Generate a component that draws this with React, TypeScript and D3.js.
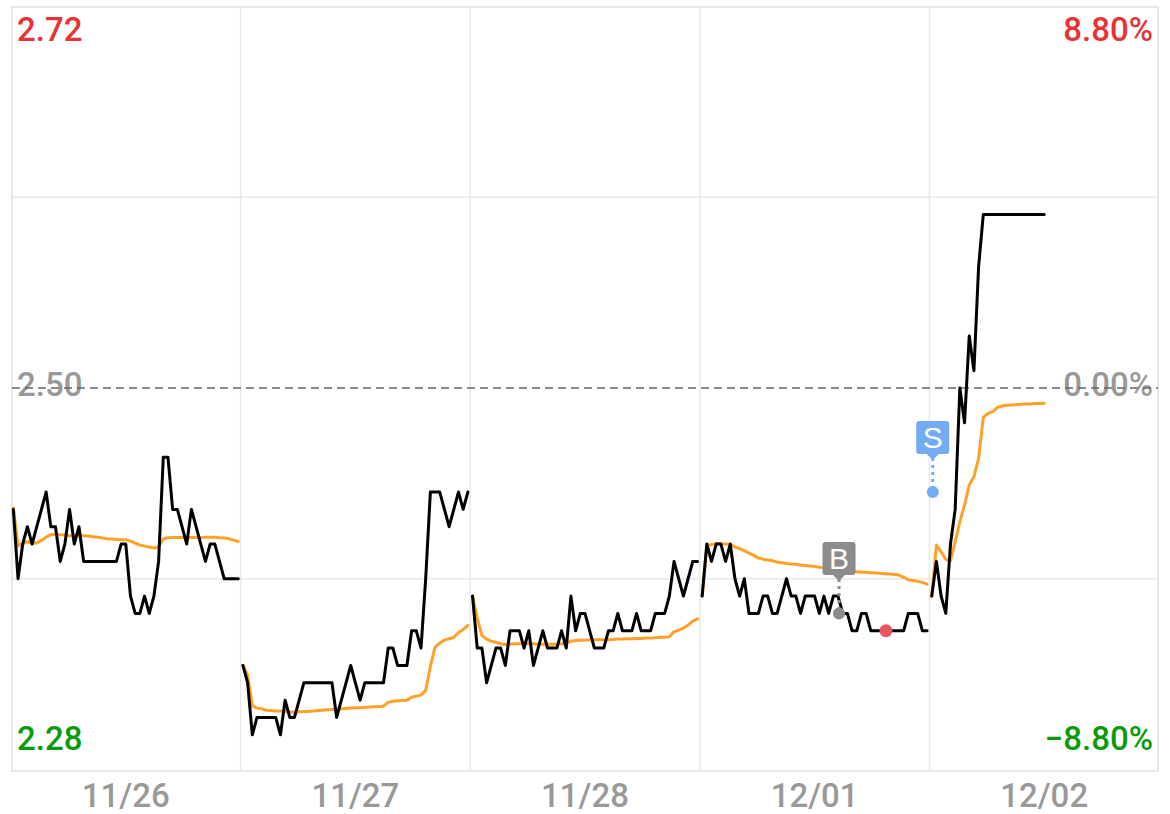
import React from "react";
import * as d3 from "d3";

const dayLabels = ["11/26", "11/27", "11/28", "12/01", "12/02"];
const leftLabels = ["2.72", "2.50", "2.28"];
const rightLabels = ["8.80%", "0.00%", "−8.80%"];
const PRICE_TOP = 2.72;
const PRICE_MID = 2.5;
const PRICE_BOTTOM = 2.28;
const PRICE_GRID_UP = 2.61;
const PRICE_GRID_DOWN = 2.39;
const POINTS_PER_DAY = 49;

const priceDay1 = [2.43,2.39,2.41,2.42,2.41,2.42,2.43,2.44,2.42,2.42,2.40,2.41,2.43,2.41,2.42,2.40,2.40,2.40,2.40,2.40,2.40,2.40,2.40,2.41,2.41,2.38,2.37,2.37,2.38,2.37,2.38,2.40,2.46,2.46,2.43,2.43,2.42,2.41,2.43,2.42,2.41,2.40,2.41,2.41,2.40,2.39,2.39,2.39,2.39];
const priceDay2 = [2.34,2.33,2.30,2.31,2.31,2.31,2.31,2.31,2.30,2.32,2.31,2.31,2.32,2.33,2.33,2.33,2.33,2.33,2.33,2.33,2.31,2.32,2.33,2.34,2.33,2.32,2.33,2.33,2.33,2.33,2.33,2.35,2.35,2.34,2.34,2.34,2.36,2.36,2.35,2.39,2.44,2.44,2.44,2.43,2.42,2.43,2.44,2.43,2.44];
const priceDay3 = [2.38,2.35,2.35,2.33,2.34,2.35,2.35,2.34,2.36,2.36,2.36,2.35,2.36,2.34,2.35,2.36,2.35,2.35,2.35,2.36,2.35,2.38,2.36,2.37,2.37,2.36,2.35,2.35,2.35,2.36,2.36,2.37,2.36,2.36,2.36,2.37,2.36,2.36,2.36,2.37,2.37,2.37,2.38,2.40,2.39,2.38,2.39,2.40,2.40];
const priceDay4 = [2.38,2.41,2.40,2.41,2.41,2.40,2.41,2.39,2.38,2.39,2.37,2.37,2.37,2.38,2.38,2.37,2.37,2.38,2.39,2.38,2.38,2.37,2.38,2.38,2.38,2.37,2.38,2.37,2.38,2.38,2.37,2.37,2.36,2.36,2.37,2.37,2.36,2.36,2.36,2.36,2.36,2.36,2.36,2.36,2.37,2.37,2.37,2.36,2.36];
const priceDay5 = [2.38,2.40,2.38,2.37,2.41,2.43,2.50,2.48,2.53,2.51,2.57,2.60,2.60,2.60,2.60,2.60,2.60,2.60,2.60,2.60,2.60,2.60,2.60,2.60,2.60];

const avgDay1 = [2.4308,2.4090,2.4102,2.4113,2.4106,2.4106,2.4121,2.4140,2.4154,2.4156,2.4154,2.4152,2.4148,2.4148,2.4148,2.4148,2.4146,2.4142,2.4140,2.4135,2.4131,2.4129,2.4127,2.4125,2.4125,2.4117,2.4106,2.4094,2.4088,2.4083,2.4077,2.4083,2.4129,2.4137,2.4138,2.4138,2.4138,2.4138,2.4138,2.4138,2.4138,2.4140,2.4140,2.4140,2.4137,2.4135,2.4131,2.4123,2.4115];
const avgDay2 = [2.3400,2.3346,2.3167,2.3154,2.3150,2.3142,2.3140,2.3138,2.3137,2.3135,2.3131,2.3131,2.3133,2.3135,2.3135,2.3137,2.3140,2.3142,2.3144,2.3146,2.3148,2.3150,2.3152,2.3154,2.3156,2.3156,2.3158,2.3160,2.3162,2.3163,2.3165,2.3187,2.3194,2.3196,2.3198,2.3200,2.3217,2.3223,2.3229,2.3256,2.3394,2.3506,2.3529,2.3546,2.3554,2.3562,2.3590,2.3608,2.3631];
const avgDay3 = [2.3800,2.3673,2.3573,2.3552,2.3540,2.3533,2.3525,2.3521,2.3523,2.3525,2.3525,2.3527,2.3527,2.3525,2.3523,2.3523,2.3523,2.3523,2.3523,2.3525,2.3527,2.3540,2.3544,2.3546,2.3546,2.3548,2.3548,2.3548,2.3548,2.3548,2.3550,2.3552,2.3552,2.3554,2.3554,2.3556,2.3556,2.3558,2.3558,2.3560,2.3562,2.3563,2.3565,2.3594,2.3604,2.3615,2.3633,2.3656,2.3669];
const avgDay4 = [2.3800,2.4096,2.4096,2.4104,2.4102,2.4100,2.4098,2.4083,2.4073,2.4062,2.4048,2.4035,2.4019,2.4013,2.4008,2.4004,2.3996,2.3992,2.3988,2.3985,2.3983,2.3979,2.3977,2.3973,2.3971,2.3967,2.3965,2.3963,2.3960,2.3956,2.3954,2.3952,2.3944,2.3940,2.3938,2.3937,2.3935,2.3933,2.3931,2.3929,2.3927,2.3925,2.3921,2.3908,2.3894,2.3890,2.3885,2.3879,2.3869];
const avgDay5 = [2.3800,2.4094,2.4056,2.4012,2.4004,2.4113,2.4229,2.4325,2.4440,2.4488,2.4594,2.4831,2.4854,2.4863,2.4888,2.4896,2.4900,2.4902,2.4904,2.4906,2.4908,2.4908,2.4910,2.4910,2.4912];

const priceDays = [priceDay1, priceDay2, priceDay3, priceDay4, priceDay5];
const avgDays = [avgDay1, avgDay2, avgDay3, avgDay4, avgDay5];

const buyMark = { day: 3, index: 29, price: 2.37, label: "B" };
const sellMark = { day: 4, index: 0, price: 2.44, label: "S" };
const lowMark = { day: 3, index: 39, price: 2.36 };

const W = 1170;
const H = 814;
const L = 12;
const R = 1158;
const T = 7;
const B = 771;
const GRID = "#e8e8e8";
const FONT = "Roboto, sans-serif";

export default function App() {
  const x = d3.scaleLinear().domain([0, dayLabels.length]).range([L - 1, R + 1]);
  const y = d3.scaleLinear().domain([PRICE_BOTTOM, PRICE_TOP]).range([769.5, 6.5]);
  const px = (day: number, i: number) => x(day + (i + 0.5) / POINTS_PER_DAY);
  const pathFor = (vals: number[], day: number) =>
    d3
      .line<number>()
      .x((_, i) => px(day, i))
      .y((v) => y(v))(vals) as string;

  const boundaries = d3.range(1, dayLabels.length);
  const textCommon = { fontFamily: FONT, fontSize: 33, fontWeight: 500 };

  const badge = (cx: number, top: number, dotY: number, color: string, label: string) => {
    const w = 33;
    const h = 33;
    return (
      <g>
        <line x1={cx} x2={cx} y1={top + h + 4} y2={dotY} stroke={color} strokeWidth={3} strokeDasharray="3 4" />
        <rect x={cx - w / 2} y={top} width={w} height={h} rx={3} fill={color} />
        <path d={`M${cx - 6},${top + h} L${cx},${top + h + 6} L${cx + 6},${top + h} Z`} fill={color} />
        <circle cx={cx} cy={dotY} r={6} fill={color} />
        <text x={cx} y={top + 27} textAnchor="middle" fill="#fff" fontFamily="'Liberation Sans', sans-serif" fontSize={30}>
          {label}
        </text>
      </g>
    );
  };

  return (
    <svg width={W} height={H} style={{ position: "absolute", left: 0, top: 0, display: "block", background: "#fff" }}>
      <rect x={L} y={T} width={R - L} height={B - T} fill="none" stroke={GRID} strokeWidth={2} />
      {boundaries.map((d) => (
        <line key={d} x1={x(d)} x2={x(d)} y1={T} y2={B} stroke={GRID} strokeWidth={1.5} />
      ))}
      {[PRICE_GRID_UP, PRICE_GRID_DOWN].map((p) => (
        <line key={p} x1={L} x2={R} y1={y(p)} y2={y(p)} stroke={GRID} strokeWidth={1.5} />
      ))}

      <g {...textCommon}>
        <text x={17} y={41} fill="#e63434">{leftLabels[0]}</text>
        <text x={17} y={396} fill="#999">{leftLabels[1]}</text>
        <text x={17} y={750} fill="#0a9a0a">{leftLabels[2]}</text>
        <text x={1153} y={41} fill="#e63434" textAnchor="end">{rightLabels[0]}</text>
        <text x={1153} y={396} fill="#999" textAnchor="end">{rightLabels[1]}</text>
        <text x={1153} y={750} fill="#0a9a0a" textAnchor="end">{rightLabels[2]}</text>
        {dayLabels.map((d, i) => (
          <text key={d} x={x(i + 0.5)} y={807} fill="#999" textAnchor="middle">{d}</text>
        ))}
      </g>

      <line x1={L} x2={R} y1={y(PRICE_MID)} y2={y(PRICE_MID)} stroke="#666" strokeWidth={1.5} strokeDasharray="8 5" />

      {avgDays.map((vals, d) => (
        <path key={d} d={pathFor(vals, d)} fill="none" stroke="#ffa126" strokeWidth={3} strokeLinejoin="round" strokeLinecap="round" />
      ))}
      {priceDays.map((vals, d) => (
        <path key={d} d={pathFor(vals, d)} fill="none" stroke="#000" strokeWidth={3} strokeLinejoin="round" strokeLinecap="round" />
      ))}

      {badge(px(buyMark.day, buyMark.index) + 1, 542, y(buyMark.price), "#8c8c8c", buyMark.label)}
      {badge(px(sellMark.day, sellMark.index) + 1, 421, y(sellMark.price), "#73acf2", sellMark.label)}
      <circle cx={px(lowMark.day, lowMark.index) + 1} cy={y(lowMark.price)} r={6.5} fill="#ea5560" />
    </svg>
  );
}
